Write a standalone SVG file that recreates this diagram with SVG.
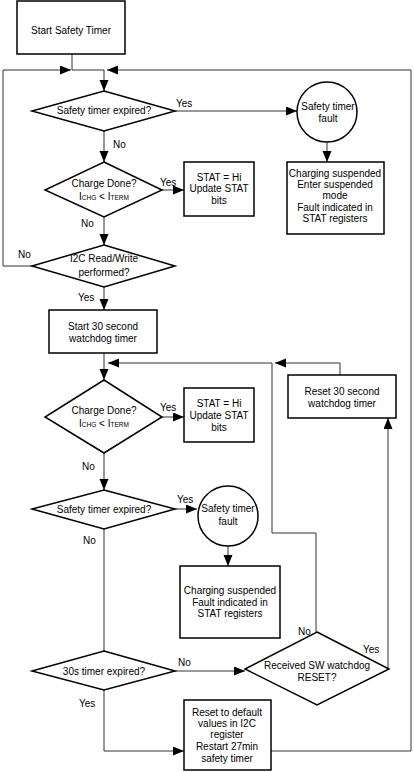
<svg xmlns="http://www.w3.org/2000/svg" width="414" height="772" viewBox="0 0 414 772">
<style>
.n{fill:#fff;stroke:#000;stroke-width:1.5}
.c{fill:none;stroke:#333;stroke-width:1;marker-end:url(#ah)}
.l{fill:none;stroke:#333;stroke-width:1}
text{font-family:"Liberation Sans",Arial,sans-serif;font-size:10px;fill:#000}
.m{text-anchor:middle}
.s{font-size:6.5px}
</style>
<defs>
<marker id="ah" markerUnits="userSpaceOnUse" markerWidth="12" markerHeight="10" refX="11" refY="4.5" orient="auto">
<path d="M0,0 L11,4.5 L0,9 z" fill="#000"/>
</marker>
</defs>
<rect width="414" height="772" fill="#fff"/>
<g id="connectors">
<path class="c" d="M72,54 V70 H104 V91"/>
<path class="c" d="M32,266 H3 V70 H71"/>
<path class="c" d="M271,751 H411 V70 H107"/>
<path class="c" d="M175,111 H297"/>
<path class="c" d="M327,142 V162"/>
<path class="c" d="M104,131 V162"/>
<path class="c" d="M162,190 H184"/>
<path class="c" d="M104,217 V245"/>
<path class="c" d="M104,287 V310"/>
<path class="c" d="M104,353 V380"/>
<path class="c" d="M316,632 V533 H272 V363 H108"/>
<path class="c" d="M340,375 V363 H275"/>
<path class="c" d="M162,417 H184"/>
<path class="c" d="M104,453 V490"/>
<path class="c" d="M175,509 H197"/>
<path class="c" d="M228,546 V566"/>
<path class="l" d="M104,529 V651"/>
<path class="c" d="M175,671 H245"/>
<path class="c" d="M104,690 V751 H184"/>
<path class="c" d="M388,669 V418"/>
</g>
<g id="start">
<rect class="n" x="17" y="1" width="108" height="53"/>
<text class="m" x="71" y="34">Start Safety Timer</text>
</g>
<g id="d1">
<polygon class="n" points="104,91 175,111 104,131 32,111"/>
<text class="m" x="104" y="114">Safety timer expired?</text>
</g>
<g id="fault1">
<circle class="n" cx="327" cy="112" r="30"/>
<text class="m" x="328" y="110">Safety timer</text>
<text class="m" x="328" y="122">fault</text>
</g>
<g id="susp1">
<rect class="n" x="287" y="162" width="97" height="72"/>
<text class="m" x="335" y="177">Charging suspended</text>
<text class="m" x="335" y="188">Enter suspended</text>
<text class="m" x="335" y="199">mode</text>
<text class="m" x="335" y="211">Fault indicated in</text>
<text class="m" x="335" y="222">STAT registers</text>
</g>
<g id="d2">
<polygon class="n" points="104,162 162,190 104,217 45,190"/>
<text class="m" x="104" y="187">Charge Done?</text>
<text class="m" x="104" y="200">I<tspan class="s">CHG</tspan> &lt; I<tspan class="s">TERM</tspan></text>
</g>
<g id="stat1">
<rect class="n" x="184" y="162" width="70" height="54"/>
<text class="m" x="219" y="181">STAT  = Hi</text>
<text class="m" x="219" y="192">Update STAT</text>
<text class="m" x="219" y="204">bits</text>
</g>
<g id="d3">
<polygon class="n" points="104,245 175,266 104,287 32,266"/>
<text class="m" x="104" y="262">I2C Read/Write</text>
<text class="m" x="104" y="276">performed?</text>
</g>
<g id="start30">
<rect class="n" x="49" y="310" width="108" height="43"/>
<text class="m" x="103" y="330">Start 30 second</text>
<text class="m" x="103" y="342">watchdog timer</text>
</g>
<g id="d4">
<polygon class="n" points="104,380 162,417 104,453 45,417"/>
<text class="m" x="104" y="414">Charge Done?</text>
<text class="m" x="104" y="427">I<tspan class="s">CHG</tspan> &lt; I<tspan class="s">TERM</tspan></text>
</g>
<g id="stat2">
<rect class="n" x="184" y="388" width="70" height="54"/>
<text class="m" x="219" y="407">STAT  = Hi</text>
<text class="m" x="219" y="419">Update STAT</text>
<text class="m" x="219" y="431">bits</text>
</g>
<g id="reset30">
<rect class="n" x="288" y="375" width="108" height="43"/>
<text class="m" x="342" y="395">Reset 30 second</text>
<text class="m" x="342" y="407">watchdog timer</text>
</g>
<g id="d5">
<polygon class="n" points="104,490 175,509 104,529 32,509"/>
<text class="m" x="104" y="513">Safety timer expired?</text>
</g>
<g id="fault2">
<circle class="n" cx="228" cy="516" r="30"/>
<text class="m" x="228" y="512">Safety timer</text>
<text class="m" x="228" y="525">fault</text>
</g>
<g id="susp2">
<rect class="n" x="180" y="566" width="100" height="72"/>
<text class="m" x="230" y="594">Charging suspended</text>
<text class="m" x="230" y="606">Fault indicated in</text>
<text class="m" x="230" y="617">STAT registers</text>
</g>
<g id="d6">
<polygon class="n" points="317,632 389,669 317,705 245,669"/>
<text class="m" x="317" y="669">Received SW watchdog</text>
<text class="m" x="317" y="681">RESET?</text>
</g>
<g id="d7">
<polygon class="n" points="104,651 175,671 104,690 32,671"/>
<text class="m" x="104" y="675">30s timer expired?</text>
</g>
<g id="resetdefault">
<rect class="n" x="184" y="700" width="87" height="70"/>
<text class="m" x="227" y="716">Reset to default</text>
<text class="m" x="227" y="727">values in I2C</text>
<text class="m" x="227" y="738">register</text>
<text class="m" x="227" y="750">Restart 27min</text>
<text class="m" x="227" y="762">safety timer</text>
</g>
<g id="labels">
<text x="176" y="107">Yes</text>
<text x="113" y="148">No</text>
<text x="160" y="186">Yes</text>
<text x="81" y="227">No</text>
<text x="18" y="258">No</text>
<text x="78" y="301">Yes</text>
<text x="160" y="411">Yes</text>
<text x="82" y="470">No</text>
<text x="177" y="503">Yes</text>
<text x="83" y="544">No</text>
<text x="178" y="666">No</text>
<text x="79" y="707">Yes</text>
<text x="298" y="635">No</text>
<text x="363" y="653">Yes</text>
</g>
</svg>
